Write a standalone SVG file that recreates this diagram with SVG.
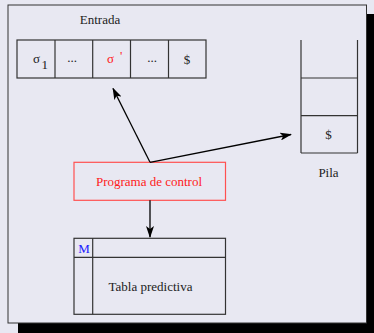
<svg xmlns="http://www.w3.org/2000/svg" width="374" height="333" viewBox="0 0 374 333">
<defs>
<marker id="ah" markerWidth="12" markerHeight="8" refX="11" refY="4" orient="auto" markerUnits="userSpaceOnUse">
<path d="M0,0 L12,4 L0,8 L3,4 Z" fill="#000"/>
</marker>
</defs>
<style>
text{font-family:"Liberation Serif","Times New Roman",serif;font-size:13px;fill:#222}
.cell{fill:none;stroke:#333;stroke-width:1.2}
.edge{stroke:#000;stroke-width:1.3;fill:none}
</style>
<rect width="374" height="333" fill="#e8e8f2"/>
<rect x="18" y="14" width="356" height="319" fill="#000"/>
<rect x="8" y="5" width="358.5" height="318" fill="#e8e8f2" stroke="#333" stroke-width="1"/>
<g id="entrada">
<text x="100" y="24" text-anchor="middle">Entrada</text>
<rect class="cell" x="17" y="40" width="189" height="38"/>
<line class="cell" x1="55" y1="40" x2="55" y2="78"/>
<line class="cell" x1="92.7" y1="40" x2="92.7" y2="78"/>
<line class="cell" x1="130.5" y1="40" x2="130.5" y2="78"/>
<line class="cell" x1="168.5" y1="40" x2="168.5" y2="78"/>
<text x="33" y="63" font-size="15">σ</text>
<text x="41.5" y="69">1</text>
<text x="72" y="62" text-anchor="middle" font-size="10">...</text>
<text x="107" y="63" font-size="14" style="fill:#ff2020">σ</text>
<text x="120" y="60" style="fill:#ff2020" font-size="8">'</text>
<text x="152" y="62" text-anchor="middle" font-size="10">...</text>
<text x="187" y="64" text-anchor="middle">$</text>
</g>
<g id="pila">
<line class="cell" x1="301" y1="40" x2="301" y2="153"/>
<line class="cell" x1="357.5" y1="40" x2="357.5" y2="153"/>
<line class="cell" x1="301" y1="78" x2="357.5" y2="78"/>
<line class="cell" x1="301" y1="115.7" x2="357.5" y2="115.7"/>
<line class="cell" x1="301" y1="153" x2="357.5" y2="153"/>
<text x="328.5" y="139" text-anchor="middle">$</text>
<text x="328.5" y="177" text-anchor="middle">Pila</text>
</g>
<g id="programa">
<rect x="74" y="162.3" width="151.5" height="38" fill="none" stroke="#ff5050" stroke-width="1.2"/>
<text x="149" y="186" text-anchor="middle" style="fill:#ff2020">Programa de control</text>
</g>
<g id="tabla">
<rect class="cell" x="74" y="238.3" width="151.5" height="76"/>
<line class="cell" x1="92.7" y1="238.3" x2="92.7" y2="314.3"/>
<line class="cell" x1="74" y1="257.3" x2="225.5" y2="257.3"/>
<text x="84" y="252.5" text-anchor="middle" style="fill:#2020ff">M</text>
<text x="150.5" y="291" text-anchor="middle">Tabla predictiva</text>
</g>
<g id="connectors">
<line class="edge" x1="150" y1="162.3" x2="113" y2="88.5" marker-end="url(#ah)"/>
<line class="edge" x1="150" y1="162.3" x2="291" y2="134.5" marker-end="url(#ah)"/>
<line class="edge" x1="150" y1="200.3" x2="150" y2="237" marker-end="url(#ah)"/>
</g>
</svg>
